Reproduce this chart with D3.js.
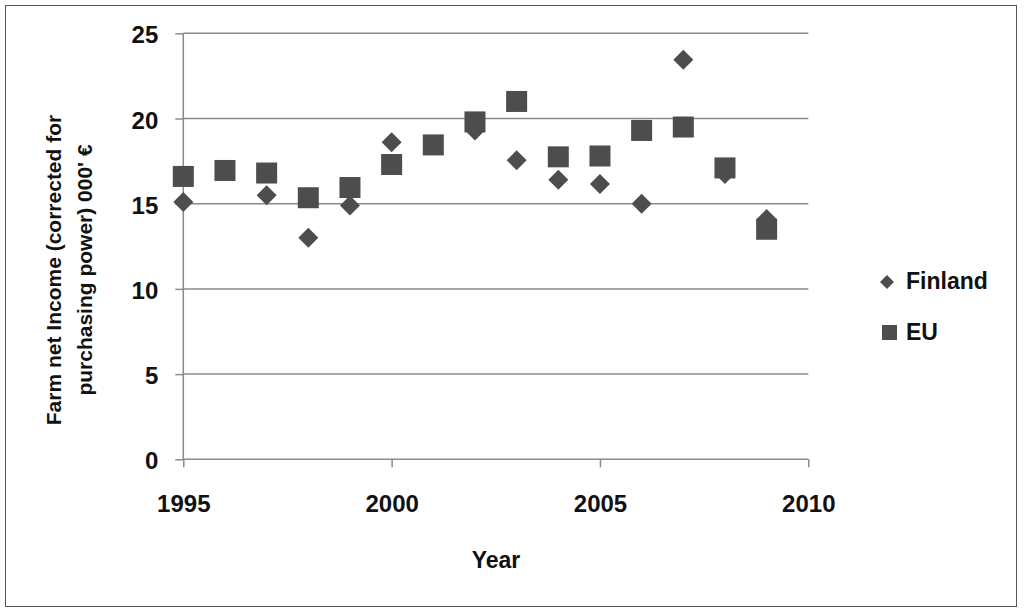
<!DOCTYPE html>
<html><head><meta charset="utf-8">
<script src="https://cdn.jsdelivr.net/npm/d3@7"></script>
<style>body{margin:0;background:#fff}svg{display:block}</style>
</head><body><svg id="c" width="1024" height="616"></svg>
<script>
const years = [1995,1996,1997,1998,1999,2000,2001,2002,2003,2004,2005,2006,2007,2008,2009];
const finland = [15.1,null,15.5,13.0,14.9,18.6,null,19.3,17.55,16.4,16.15,15.0,23.45,16.75,14.1];
const eu = [16.6,16.95,16.8,15.35,15.95,17.3,18.45,19.8,21.0,17.75,17.8,19.3,19.5,17.1,13.5];
const xTicks = [1995,2000,2005,2010];
const yTicks = [0,5,10,15,20,25];
const seriesNames = ["Finland","EU"];
const yTitle = ["Farm net Income (corrected for","purchasing power) 000' €"];
const xTitle = "Year";

const svg = d3.select("#c");
const font = "'Liberation Sans', Arial, sans-serif";
svg.append("rect").attr("x",5.5).attr("y",5.5).attr("width",1011).attr("height",601)
  .attr("fill","#fff").attr("stroke","#555").attr("stroke-width",1);

const x = d3.scaleLinear().domain([1995,2010]).range([183.3,808.3]);
const y = d3.scaleLinear().domain([0,25]).range([459.3,33.3]);
const grid = "#8a8a8a";

svg.append("g").selectAll("line").data(yTicks.filter(d=>d>0)).join("line")
  .attr("x1",x(1995)).attr("x2",x(2010)).attr("y1",d=>y(d)).attr("y2",d=>y(d))
  .attr("stroke",grid).attr("stroke-width",1.5);

const yAxis = svg.append("g").attr("transform",`translate(${x(1995)},0)`)
  .call(d3.axisLeft(y).tickValues(yTicks).tickSize(8).tickPadding(17));
const xAxis = svg.append("g").attr("transform",`translate(0,${y(0)})`)
  .call(d3.axisBottom(x).tickValues(xTicks).tickFormat(d3.format("d")).tickSize(8).tickPadding(28));
[yAxis,xAxis].forEach(a=>{
  a.selectAll("path,line").attr("stroke",grid).attr("stroke-width",1.5);
  a.selectAll("text").attr("font-family",font).attr("font-weight","bold").attr("font-size",24).attr("fill","#111");
});
yAxis.selectAll("text").attr("dy","0.4em");
xAxis.select(".domain").attr("d",`M${x(1995)},0H${x(2010)}`);
yAxis.select(".domain").attr("d",`M0,${y(0)}V${y(25)}`);

const col = "#4d4d4d";
const dPath = (s)=>`M0,${-s}L${s},0L0,${s}L${-s},0Z`;

svg.append("g").selectAll("path").data(years.map((yr,i)=>({yr,v:finland[i]})).filter(d=>d.v!=null)).join("path")
  .attr("d",dPath(10)).attr("transform",d=>`translate(${x(d.yr)},${y(d.v)})`).attr("fill",col);
svg.append("g").selectAll("rect").data(years.map((yr,i)=>({yr,v:eu[i]}))).join("rect")
  .attr("x",d=>x(d.yr)-10.5).attr("y",d=>y(d.v)-10.5).attr("width",21).attr("height",21).attr("fill",col);

// axis titles
svg.append("text").attr("x",496).attr("y",568).attr("text-anchor","middle")
  .attr("font-family",font).attr("font-weight","bold").attr("font-size",23).attr("fill","#111").text(xTitle);
const g = svg.append("g").attr("transform","translate(61,270) rotate(-90)");
g.selectAll("text").data(yTitle).join("text").attr("x",0).attr("y",(d,i)=>i*31)
  .attr("text-anchor","middle")
  .attr("font-family",font).attr("font-weight","bold").attr("font-size",21).attr("fill","#111").text(d=>d);

// legend
const lg = svg.append("g");
lg.append("path").attr("d",dPath(7)).attr("transform","translate(887,282)").attr("fill",col);
lg.append("rect").attr("x",882).attr("y",325).attr("width",15).attr("height",15).attr("fill",col);
lg.selectAll("text").data(seriesNames).join("text").attr("x",906).attr("y",(d,i)=>289+i*51)
  .attr("font-family",font).attr("font-weight","bold")
  .attr("font-size",23).attr("fill","#111").text(d=>d);
</script></body></html>
